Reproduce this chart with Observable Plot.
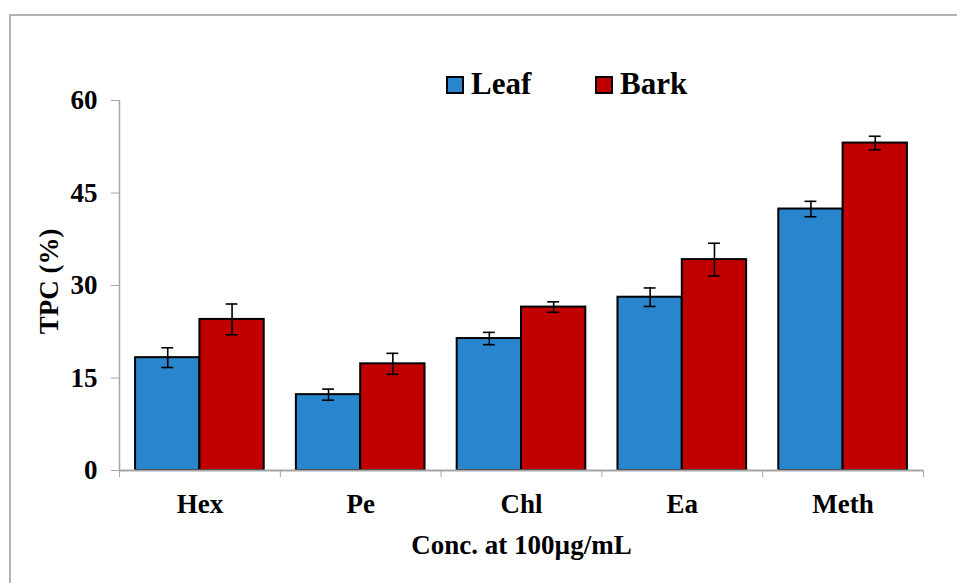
<!DOCTYPE html>
<html>
<head>
<meta charset="utf-8">
<script src="https://cdn.jsdelivr.net/npm/d3@7"></script>
<script src="https://cdn.jsdelivr.net/npm/@observablehq/plot@0.6"></script>
<style>
  html, body { margin: 0; padding: 0; background: #fff; }
  #wrap { position: relative; width: 957px; height: 583px; overflow: hidden; font-family: "Liberation Serif", "Times New Roman", serif; font-weight: bold; }
  #frame { position: absolute; left: 9px; top: 14px; width: 960px; height: 600px; border-top: 2px solid #b3b3b3; border-left: 2px solid #b3b3b3; box-sizing: border-box; }
  #legend { position: absolute; top: 66px; left: 0; height: 36px; }
  .item { position: absolute; top: 0; display: flex; align-items: center; font-size: 31px; line-height: 36px; color: #000; white-space: nowrap; }
  .sw { width: 14px; height: 14px; border: 2px solid #000; margin-right: 7px; margin-top: 2px; }
  #chart { position: absolute; left: 0; top: 0; }
</style>
</head>
<body>
<div id="wrap">
  <div id="frame"></div>
  <div id="chart"></div>
  <div id="legend"></div>
</div>
<script>
const categories = ["Hex", "Pe", "Chl", "Ea", "Meth"];
const seriesNames = ["Leaf", "Bark"];
const leafValues = [18.3, 12.3, 21.4, 28.1, 42.4];
const barkValues = [24.5, 17.3, 26.5, 34.2, 53.1];
const leafErrors = [1.6, 0.9, 1.0, 1.5, 1.25];
const barkErrors = [2.5, 1.7, 0.85, 2.65, 1.1];
const yTicks = [0, 15, 30, 45, 60];
const seriesColors = ["#2986cc", "#c00000"];
const xTitle = "Conc. at 100µg/mL";
const yTitle = "TPC (%)";

const groupWidth = 0.8;
const barW = groupWidth / 2;
const capHalf = 0.037;
const rows = categories.flatMap((c, i) => [
  {cat: c, i, series: "Leaf", k: 0, value: leafValues[i], err: leafErrors[i]},
  {cat: c, i, series: "Bark", k: 1, value: barkValues[i], err: barkErrors[i]}
]);
const x1 = d => d.i - groupWidth / 2 + d.k * barW;
const xc = d => x1(d) + barW / 2;
const boundaries = d3.range(categories.length + 1).map(v => v - 0.5);
const gray = "#a6a6a6";
const fs = 27;

const chart = Plot.plot({
  width: 957,
  height: 583,
  marginLeft: 119,
  marginRight: 34,
  marginTop: 100,
  marginBottom: 113,
  x: {domain: [-0.5, categories.length - 0.5], axis: null},
  y: {domain: [0, 60], axis: null},
  color: {domain: seriesNames, range: seriesColors},
  style: {fontFamily: "Liberation Serif, Times New Roman, serif", fontWeight: "bold", fontSize: fs + "px", color: "#000", background: "transparent", overflow: "visible"},
  marks: [
    Plot.rectY(rows, {x1: x1, x2: d => x1(d) + barW, y1: 0, y2: "value", fill: "series", stroke: "#000", strokeWidth: 2}),
    Plot.ruleX(rows, {x: xc, y1: d => d.value - d.err, y2: d => d.value + d.err, stroke: "#000", strokeWidth: 1.6}),
    Plot.ruleY(rows, {x1: d => xc(d) - capHalf, x2: d => xc(d) + capHalf, y: d => d.value + d.err, stroke: "#000", strokeWidth: 1.6}),
    Plot.ruleY(rows, {x1: d => xc(d) - capHalf, x2: d => xc(d) + capHalf, y: d => d.value - d.err, stroke: "#000", strokeWidth: 1.6}),
    Plot.ruleX([-0.5], {stroke: gray, strokeWidth: 1.5}),
    Plot.ruleY([0], {stroke: gray, strokeWidth: 2}),
    Plot.axisY(yTicks, {tickSize: 8, tickPadding: 14, stroke: gray, label: null, fontSize: fs}),
    Plot.axisX(boundaries, {tickSize: 7, tickFormat: () => "", stroke: gray, label: null}),
    Plot.axisX(d3.range(categories.length), {tickSize: 0, tickPadding: 23, tickFormat: i => categories[i], label: null, fontSize: fs}),
    Plot.text([xTitle], {frameAnchor: "bottom", dy: 75, lineAnchor: "middle", fontSize: fs}),
    Plot.text([yTitle], {frameAnchor: "left", dx: -70, dy: -4, rotate: -90, textAnchor: "middle", lineAnchor: "middle", fontSize: fs})
  ]
});
document.getElementById("chart").appendChild(chart);

const legend = document.getElementById("legend");
const legendX = [446, 595];
seriesNames.forEach((s, j) => {
  const item = document.createElement("div");
  item.className = "item";
  item.style.left = legendX[j] + "px";
  const sw = document.createElement("div");
  sw.className = "sw";
  sw.style.background = seriesColors[j];
  item.appendChild(sw);
  const t = document.createElement("span");
  t.textContent = s;
  item.appendChild(t);
  legend.appendChild(item);
});
</script>
</body>
</html>
